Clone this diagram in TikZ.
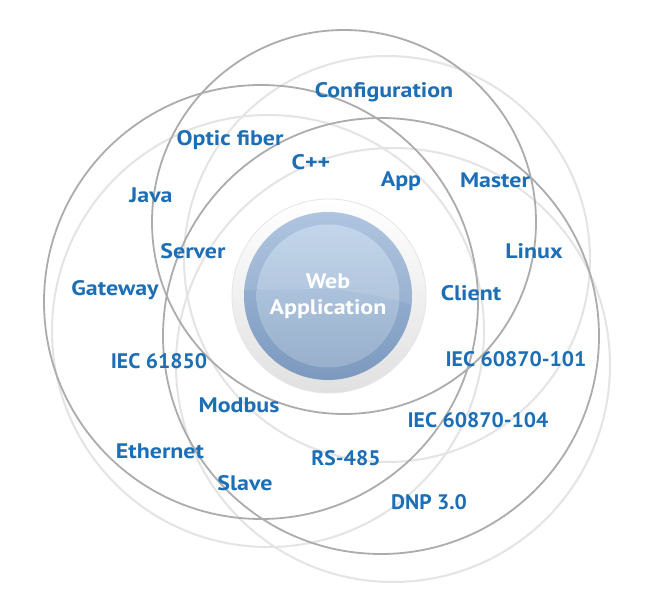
\documentclass[tikz,border=0pt]{standalone}
\usepackage{fontspec}
\setmainfont[FakeStretch=1.14]{PT Sans}
\newfontfamily\numfont[FakeStretch=1.03]{PT Sans}
\definecolor{lbl}{RGB}{28,110,182}
\definecolor{darkc}{RGB}{172,172,172}
\definecolor{lightc}{RGB}{228,228,228}
\definecolor{ringtop}{RGB}{166,190,221}
\definecolor{ringbot}{RGB}{124,153,190}
\definecolor{intop}{RGB}{188,209,233}
\definecolor{inbot}{RGB}{152,176,204}
\begin{document}
\begin{tikzpicture}[x=1pt,y=-1pt,
  darkring/.style={draw=darkc,line width=1.8pt},
  lightring/.style={draw=lightc,line width=2pt},
  lab/.style={text=lbl,font=\fontsize{21}{24}\selectfont\bfseries,inner sep=0pt},
  numlab/.style={text=lbl,font=\numfont\fontsize{21}{24}\selectfont\bfseries,inner sep=0pt},
  centertext/.style={text=white,font=\fontsize{21}{26}\selectfont\bfseries,align=center,inner sep=0pt}]
\useasboundingbox (0,0) rectangle (650,612);
\fill[white] (0,0) rectangle (650,612);
% light rings
\draw[lightring] (387,259) circle[radius=203];
\draw[lightring] (268,331) circle[radius=216];
\draw[lightring] (393,365) circle[radius=217];
% dark rings
\draw[darkring] (344,222) circle[radius=192];
\draw[darkring] (261,302) circle[radius=217];
\draw[darkring] (381,336) circle[radius=218];
% halo
\shade[top color=white,bottom color=black!12] (329,296) circle[radius=97];
\draw[black!10,line width=0.8pt] (329,296) circle[radius=97];
% blue ring
\shade[top color=ringtop,bottom color=ringbot] (328,296) circle[radius=84];
\shade[top color=intop,bottom color=inbot] (328,296) circle[radius=71.5];
\begin{scope}
\clip (328,296) circle[radius=84];
\fill[white,opacity=0.10] (230,200) rectangle (430,288) -- (430,312) .. controls (380,290) and (300,282) .. (230,290) -- cycle;
\end{scope}
\node[centertext] (web) at (328,296) {Web\\Application};
% labels
\node[lab] (configuration) at (384,92) {Configuration};
\node[lab] (opticfiber) at (230,140) {Optic fiber};
\node[lab] (cpp) at (311,162) {C++};
\node[lab] (app) at (401,181) {App};
\node[lab] (master) at (495,180) {Master};
\node[lab] (java) at (151,195) {Java};
\node[lab] (server) at (193,251) {Server};
\node[lab] (linux) at (534,251) {Linux};
\node[lab] (gateway) at (115,290) {Gateway};
\node[lab] (client) at (471,293) {Client};
\node[numlab] (iec61850) at (159,361) {IEC 61850};
\node[numlab] (iec101) at (516,359) {IEC 60870-101};
\node[lab] (modbus) at (239,405) {Modbus};
\node[numlab] (iec104) at (478,420) {IEC 60870-104};
\node[lab] (ethernet) at (160,451) {Ethernet};
\node[numlab] (rs485) at (346,458) {RS-485};
\node[lab] (slave) at (245,483) {Slave};
\node[numlab] (dnp) at (429,502) {DNP 3.0};
\end{tikzpicture}
\end{document}
